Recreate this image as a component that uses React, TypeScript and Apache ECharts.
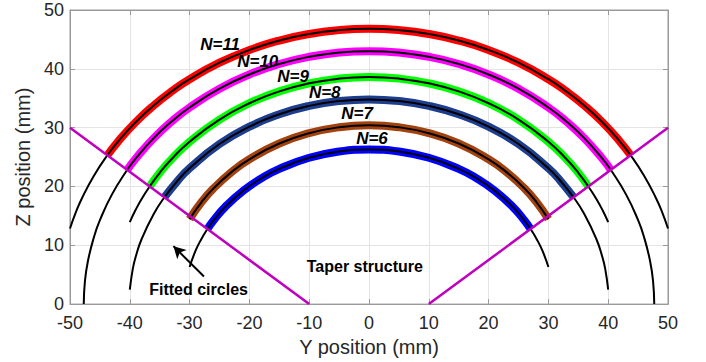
import React, { useEffect, useRef } from "react";
import * as echarts from "echarts";

// Winding turns, outermost first
const turnLabels = ["N=11", "N=10", "N=9", "N=8", "N=7", "N=6"];
const bandColors = ["#ff0000", "#ff00ff", "#00ff00", "#1d3d8f", "#a3420f", "#0000ff"];

// Right half of each fitted circle, [Y, Z] in mm, from the apex outwards
const arcN11 = [
  [0, 46.8], [5, 46.58], [10, 45.93], [15, 44.81], [20, 43.2], [25, 41.04], [30, 38.23],
  [33, 36.17], [36, 33.77], [39, 30.96], [42, 27.59], [43.75, 25.3], [46, 21.82],
  [48, 18.0], [49, 15.67], [50, 12.85],
];
const arcN10 = [
  [0, 43.0], [5, 42.76], [10, 42.05], [15, 40.82], [20, 39.04], [25, 36.62], [30, 33.43],
  [33, 31.05], [36, 28.21], [39, 24.76], [40.45, 22.79], [43, 18.61], [45, 14.26],
  [46, 11.38], [47, 7.34], [47.5, 3.93], [47.7, 0],
];
const arcN9 = [
  [0, 38.6], [5, 38.34], [10, 37.54], [15, 36.16], [20, 34.15], [25, 31.37], [30, 27.59],
  [33, 24.66], [35, 22.32], [36.68, 20.0], [38, 17.91], [39, 16.08], [40, 13.95],
];
const arcN8 = [
  [0, 34.8], [5, 34.53], [10, 33.7], [15, 32.27], [20, 30.16], [25, 27.21], [30, 23.09],
  [32, 20.97], [34.2, 18.17], [36, 15.33], [38, 11.11], [39, 8.09], [39.5, 6.0], [40, 2.45],
];
const arcN7 = [
  [0, 30.4], [5, 30.07], [10, 29.06], [15, 27.3], [20, 24.62], [23, 22.44], [26, 19.67],
  [28, 17.35], [30, 14.45],
];
const arcN6 = [
  [0, 26.3], [5, 25.95], [10, 24.88], [15, 22.99], [18, 21.38], [21, 19.29], [24, 16.57],
  [26, 14.21], [27, 12.79], [28, 11.12], [29, 9.08], [30, 6.3],
];
const fittedArcs = [arcN11, arcN10, arcN9, arcN8, arcN7, arcN6];

// Measured wire positions reach out to the taper walls (|Y| in mm)
const bandLimits = [43.75, 40.45, 36.68, 34.2, 30, 27];

// Label anchors, [Y, Z] in mm
const turnLabelSpots = [
  [-24.9, 44.1], [-18.6, 41.2], [-12.7, 38.7], [-7.4, 35.9], [-2.0, 32.4], [0.5, 28.2],
];
const noteTexts = ["Fitted circles", "Taper structure"];
const noteSpots = [[-28.5, 2.5], [-0.7, 6.4]];
const arrowFrom = [-27.6, 4.7];
const arrowTo = [-32.7, 9.85];

// Taper walls
const taperLeft = [[-50, 30], [-10, 0]];
const taperRight = [[10, 0], [50, 30]];

const yTicks = { min: -50, max: 50, interval: 10 };
const zTicks = { min: 0, max: 50, interval: 10 };

const FONT = "'Liberation Sans', Arial, Helvetica, sans-serif";

function mirrored(half: number[][]): number[][] {
  const left = half.slice(1).reverse().map(([y, z]) => [-y, z]);
  return [...left, ...half];
}

export default function App() {
  const ref = useRef<HTMLDivElement>(null);

  useEffect(() => {
    if (!ref.current) return;
    const chart = echarts.init(ref.current, undefined, { renderer: "svg" });

    const bandSeries = fittedArcs.map((half, i) => ({
      type: "line",
      name: turnLabels[i] + " data",
      data: mirrored(half).filter((p) => Math.abs(p[0]) <= bandLimits[i] + 1e-6),
      smooth: true,
      symbol: "none",
      lineStyle: { color: bandColors[i], width: 8 },
      z: 2,
    }));

    const fitSeries = fittedArcs.map((half, i) => ({
      type: "line",
      name: turnLabels[i] + " fit",
      data: mirrored(half),
      smooth: true,
      symbol: "none",
      lineStyle: { color: "#000000", width: 2 },
      z: 3,
    }));

    const axisGray = "#9a9a9a";
    const gridGray = "#e4e4e4";
    const hidden = "rgba(0,0,0,0)";

    chart.setOption({
      animation: false,
      grid: {
        left: 70,
        right: 38,
        top: 10,
        bottom: 54,
        show: true,
        borderColor: axisGray,
        borderWidth: 1,
      },
      xAxis: [
        {
          type: "value",
          ...yTicks,
          name: "Y position (mm)",
          nameLocation: "middle",
          nameGap: 31,
          nameTextStyle: { fontFamily: FONT, fontSize: 20, color: "#262626" },
          axisLine: { show: true, onZero: false, lineStyle: { color: axisGray } },
          axisTick: { show: true, inside: true, length: 5, lineStyle: { color: axisGray } },
          axisLabel: { fontFamily: FONT, fontSize: 18, color: "#262626", margin: 10 },
          splitLine: { show: true, lineStyle: { color: gridGray, width: 1 } },
        },
        {
          type: "value",
          position: "top",
          ...yTicks,
          axisLine: { show: true, onZero: false, lineStyle: { color: axisGray } },
          axisTick: { show: true, inside: true, length: 5, lineStyle: { color: axisGray } },
          axisLabel: { show: false },
          splitLine: { show: false },
        },
      ],
      yAxis: [
        {
          type: "value",
          ...zTicks,
          name: "Z position (mm)",
          nameLocation: "middle",
          nameGap: 27,
          nameTextStyle: { fontFamily: FONT, fontSize: 20, color: "#262626" },
          axisLine: { show: true, onZero: false, lineStyle: { color: axisGray } },
          axisTick: { show: true, inside: true, length: 5, lineStyle: { color: axisGray } },
          axisLabel: { fontFamily: FONT, fontSize: 18, color: "#262626", margin: 6 },
          splitLine: { show: true, lineStyle: { color: gridGray, width: 1 } },
        },
        {
          type: "value",
          position: "right",
          ...zTicks,
          axisLine: { show: true, onZero: false, lineStyle: { color: axisGray } },
          axisTick: { show: true, inside: true, length: 5, lineStyle: { color: axisGray } },
          axisLabel: { show: false },
          splitLine: { show: false },
        },
      ],
      series: [
        ...bandSeries,
        ...fitSeries,
        {
          type: "line",
          name: "Taper left",
          data: taperLeft,
          symbol: "none",
          lineStyle: { color: "#bf00bf", width: 2.5 },
          z: 4,
        },
        {
          type: "line",
          name: "Taper right",
          data: taperRight,
          symbol: "none",
          lineStyle: { color: "#bf00bf", width: 2.5 },
          z: 4,
          markLine: {
            silent: true,
            symbol: ["none", "arrow"],
            symbolSize: [10, 12],
            lineStyle: { color: "#000000", width: 2, type: "solid" },
            label: { show: false },
            data: [[{ coord: arrowFrom }, { coord: arrowTo }]],
          },
        },
        {
          type: "scatter",
          name: "Turn labels",
          symbolSize: 1,
          itemStyle: { color: hidden, opacity: 1 },
          data: turnLabelSpots.map((p, i) => ({ name: turnLabels[i], value: p })),
          label: {
            show: true,
            position: "inside",
            formatter: (p: any) => p.name,
            fontFamily: FONT,
            fontSize: 17,
            fontWeight: "bold",
            fontStyle: "italic",
            color: "#000000",
            textBorderWidth: 0,
          },
          z: 6,
        },
        {
          type: "scatter",
          name: "Notes",
          symbolSize: 1,
          itemStyle: { color: hidden, opacity: 1 },
          data: noteSpots.map((p, i) => ({ name: noteTexts[i], value: p })),
          label: {
            show: true,
            position: "inside",
            formatter: (p: any) => p.name,
            fontFamily: FONT,
            fontSize: 16,
            fontWeight: "bold",
            color: "#000000",
            textBorderWidth: 0,
          },
          z: 6,
        },
      ],
    });

    return () => chart.dispose();
  }, []);

  return (
    <div
      ref={ref}
      style={{ position: "fixed", left: 0, top: 0, width: 706, height: 362, background: "#ffffff" }}
    />
  );
}
